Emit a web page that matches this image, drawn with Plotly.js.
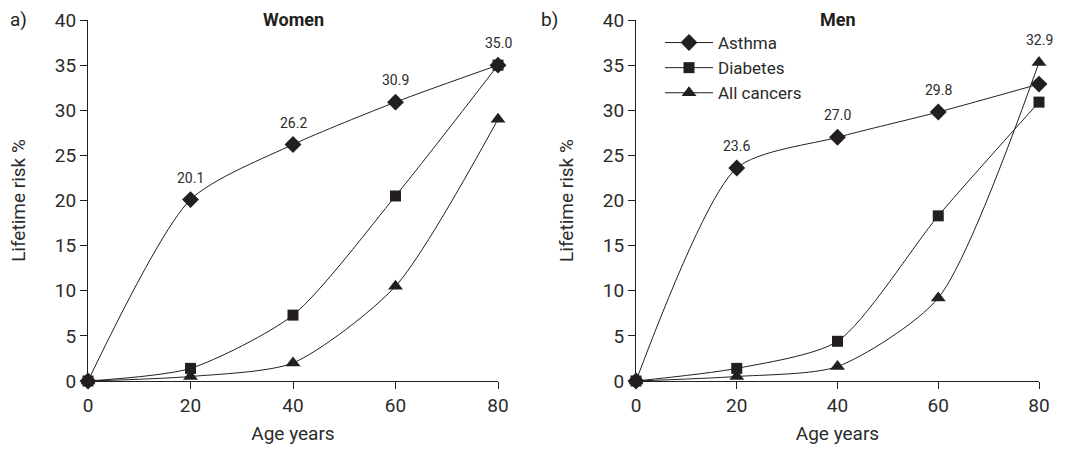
<!DOCTYPE html>
<html>
<head>
<meta charset="utf-8">
<script src="https://cdn.plot.ly/plotly-3.0.1.min.js"></script>
<style>html,body{margin:0;padding:0;background:#fff;}#chart{width:1089px;height:450px;}</style>
</head>
<body>
<div id="chart"></div>
<script>
const ages = [0, 20, 40, 60, 80];
const xTicks = [0, 20, 40, 60, 80];
const yTicks = [0, 5, 10, 15, 20, 25, 30, 35, 40];
const seriesNames = ["Asthma", "Diabetes", "All cancers"];

const womenAsthma = [0, 20.1, 26.2, 30.9, 35.0];
const womenDiabetes = [0, 1.4, 7.3, 20.5, 35.0];
const womenCancers = [0, 0.5, 2.0, 10.5, 29.0];

const menAsthma = [0, 23.6, 27.0, 29.8, 32.9];
const menDiabetes = [0, 1.4, 4.4, 18.3, 30.9];
const menCancers = [0, 0.5, 1.6, 9.2, 35.3];

const panelTitles = ["Women", "Men"];
const panelLetters = ["a)", "b)"];

const FONT = "Roboto, 'DejaVu Sans', sans-serif";
const INK = "#231f20";
const TXT = "#2b2b2b";
const symbols = ["diamond", "square", "triangle-up"];
const sizes = [13, 11, 13];

function mk(name, y, idx, xa, ya, showlegend) {
  return {
    type: "scatter", mode: "lines+markers", name: name,
    x: ages, y: y, xaxis: xa, yaxis: ya, showlegend: showlegend,
    legendrank: idx + 1, cliponaxis: false,
    line: {color: INK, width: 1, shape: "spline", smoothing: 0.7},
    marker: {symbol: symbols[idx], size: sizes[idx], color: INK, line: {width: 0}}
  };
}

const panels = [
  {series: [womenAsthma, womenDiabetes, womenCancers], xa: "x", ya: "y"},
  {series: [menAsthma, menDiabetes, menCancers], xa: "x2", ya: "y2"}
];

const data = [];
const annotations = [];
panels.forEach((p, pi) => {
  [2, 0, 1].forEach(i => data.push(mk(seriesNames[i], p.series[i], i, p.xa, p.ya, pi === 1)));
  ages.forEach((a, k) => {
    if (k === 0) return;
    const top = Math.max(p.series[0][k], p.series[1][k], p.series[2][k]);
    annotations.push({
      xref: p.xa, yref: p.ya, x: a, y: top, yshift: 22, showarrow: false,
      text: p.series[0][k].toFixed(1), font: {family: FONT, size: 14, color: TXT}
    });
  });
});

const xd = [[88/1089, 498/1089], [636/1089, 1039/1089]];
const yd = [(450-381)/450, (450-20)/450];

panelTitles.forEach((t, i) => {
  annotations.push({
    xref: "paper", yref: "paper", x: (xd[i][0] + xd[i][1]) / 2, y: 1 - 20/450,
    text: "<b>" + t + "</b>", showarrow: false, xanchor: "center", yanchor: "middle",
    font: {family: FONT, size: 18, color: INK}
  });
  annotations.push({
    xref: "paper", yref: "paper", x: (i === 0 ? 18 : 549)/1089, y: 1 - 20/450,
    text: panelLetters[i], showarrow: false, xanchor: "center", yanchor: "middle",
    font: {family: FONT, size: 19, color: INK}
  });
});

function xaxis(i) {
  return {
    domain: xd[i], range: [0, 80], tickvals: xTicks, ticks: "outside", ticklen: 7,
    tickcolor: INK, showline: true, linecolor: INK, linewidth: 1, showgrid: false, zeroline: false,
    tickfont: {family: FONT, size: 19, color: TXT},
    title: {text: "Age years", font: {family: FONT, size: 19, color: TXT}, standoff: 10},
    anchor: i === 0 ? "y" : "y2", fixedrange: true
  };
}
function yaxis(i) {
  return {
    domain: yd, range: [0, 40], tickvals: yTicks, ticks: "outside", ticklen: 7,
    tickcolor: INK, showline: true, linecolor: INK, linewidth: 1, showgrid: false, zeroline: false,
    tickfont: {family: FONT, size: 19, color: TXT},
    title: {text: "Lifetime risk %", font: {family: FONT, size: 19, color: TXT}, standoff: 24},
    anchor: i === 0 ? "x" : "x2", fixedrange: true
  };
}

const layout = {
  width: 1089, height: 450, margin: {l: 0, r: 0, t: 0, b: 0},
  paper_bgcolor: "#fff", plot_bgcolor: "#fff",
  font: {family: FONT, color: INK},
  xaxis: xaxis(0), yaxis: yaxis(0), xaxis2: xaxis(1), yaxis2: yaxis(1),
  showlegend: true,
  legend: {x: 660/1089, y: 1 - 25/450, xanchor: "left", yanchor: "top",
    bgcolor: "rgba(0,0,0,0)", font: {family: FONT, size: 17, color: TXT},
    tracegroupgap: 0, itemwidth: 48},
  annotations: annotations
};

Plotly.newPlot("chart", data, layout, {displayModeBar: false, staticPlot: true});
</script>
</body>
</html>
